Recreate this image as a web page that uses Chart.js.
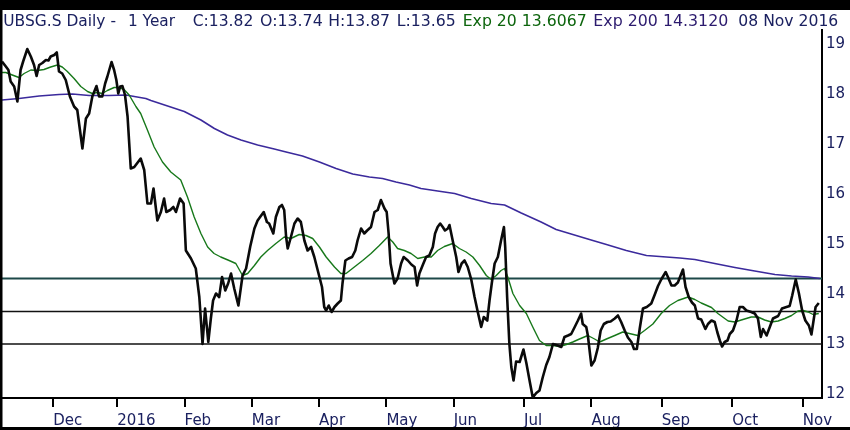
<!DOCTYPE html>
<html>
<head>
<meta charset="utf-8">
<script src="https://cdn.jsdelivr.net/npm/chart.js@4.4.1/dist/chart.umd.min.js"></script>
<style>
html,body{margin:0;padding:0;background:#fff;}
canvas{display:block;}
</style>
</head>
<body>
<canvas id="c" width="850" height="430"></canvas>
<script>
// ---- data (x = trading-day index since start of the one-year window) ----
const monthTickDays = [16, 36, 57, 78, 99, 120, 141, 163, 184, 206, 228, 250];
const monthLabels = ['Dec', '2016', 'Feb', 'Mar', 'Apr', 'May', 'Jun', 'Jul', 'Aug', 'Sep', 'Oct', 'Nov'];
const yTicks = [12, 13, 14, 15, 16, 17, 18, 19];
const refLevels = [14.31, 13.65, 13.0];

const priceDays = [0,1.2,2.0,2.7,3.8,4.8,5.8,6.6,7.9,9.0,10.0,10.8,11.6,12.6,13.7,14.5,15.2,16.3,17.1,17.8,18.8,19.9,21.2,22.5,23.5,25.1,26.2,27.2,28.2,29.5,30.3,31.3,32.2,32.9,34.2,35.0,35.7,36.3,36.9,37.6,38.4,39.2,40.2,41.3,43.3,44.4,45.4,46.5,47.3,48.5,49.6,50.6,51.3,52.5,53.5,54.3,55.6,56.7,57.4,59.0,60.5,61.6,62.6,63.4,64.4,65.2,65.9,66.8,67.8,68.7,69.7,70.6,71.5,72.5,73.8,75.1,76.2,77.5,78.8,79.8,81.7,82.7,83.4,84.7,85.5,86.6,87.4,88.1,88.7,89.2,90.2,91.3,92.3,93.3,94.4,95.4,96.5,97.5,99.1,99.9,100.6,101.2,102.0,102.9,103.8,104.8,105.8,106.3,107.2,108.2,109.3,110.3,111.0,112.1,113.1,114.0,115.2,116.3,117.3,118.3,119.4,120.1,120.7,121.3,122.5,123.5,124.6,125.4,126.7,127.8,128.8,129.6,130.3,131.3,132.4,133.4,134.5,135.2,136.0,136.8,137.6,138.3,139.2,139.7,140.7,141.8,142.5,143.5,144.4,145.4,146.5,147.5,148.5,149.6,150.4,151.5,152.2,152.9,153.8,154.8,155.8,156.7,157.1,157.7,158.4,159.0,159.7,160.5,161.6,162.8,163.7,164.7,165.7,166.8,167.8,168.8,169.9,170.9,172.0,173.5,174.6,175.6,176.7,177.7,178.8,179.8,180.8,181.3,182.4,182.9,184.0,185.0,186.0,186.9,187.9,189.0,190.0,191.3,192.3,193.3,194.4,195.4,196.5,197.3,198.2,199.1,200.1,201.3,202.7,203.8,204.8,205.8,207.2,207.9,209.0,210.0,211.0,212.6,213.4,214.4,215.4,216.3,217.3,218.3,219.6,220.4,221.5,222.5,223.3,224.1,224.8,225.6,226.5,227.2,228.2,229.3,230.3,231.3,232.4,233.9,235.0,236.0,236.9,237.6,238.7,239.7,240.7,242.3,243.5,244.9,245.9,246.7,247.8,248.8,249.8,250.8,251.9,252.7,253.2,254.0,255.0];
const priceValues = [18.65,18.55,18.48,18.25,18.15,17.85,18.48,18.65,18.90,18.75,18.58,18.36,18.58,18.62,18.68,18.67,18.75,18.78,18.83,18.45,18.41,18.28,17.95,17.75,17.68,16.91,17.51,17.61,17.95,18.16,17.95,17.95,18.21,18.35,18.64,18.48,18.28,18.01,18.15,18.16,17.98,17.55,16.51,16.54,16.71,16.48,15.81,15.81,16.11,15.47,15.64,15.91,15.64,15.68,15.74,15.64,15.91,15.81,14.87,14.71,14.51,13.94,13.00,13.71,13.04,13.51,13.87,14.01,13.94,14.34,14.07,14.21,14.41,14.11,13.77,14.37,14.51,14.95,15.31,15.47,15.64,15.44,15.41,15.21,15.54,15.74,15.78,15.68,15.14,14.91,15.14,15.41,15.51,15.44,15.07,14.87,14.94,14.74,14.34,14.14,13.74,13.67,13.77,13.64,13.74,13.81,13.87,14.21,14.67,14.71,14.74,14.87,15.07,15.31,15.21,15.27,15.34,15.64,15.68,15.88,15.71,15.64,15.21,14.61,14.21,14.31,14.61,14.74,14.67,14.59,14.54,14.17,14.41,14.57,14.74,14.77,14.94,15.21,15.34,15.41,15.34,15.27,15.31,15.38,15.07,14.74,14.44,14.61,14.67,14.54,14.29,13.95,13.65,13.34,13.54,13.47,13.87,14.21,14.61,14.74,15.07,15.34,14.94,13.94,13.00,12.54,12.27,12.65,12.64,12.89,12.62,12.27,11.93,12.02,12.07,12.33,12.58,12.74,13.00,12.97,12.94,13.14,13.17,13.20,13.34,13.47,13.61,13.40,13.34,13.17,12.57,12.67,12.92,13.27,13.40,13.44,13.45,13.51,13.57,13.44,13.27,13.13,13.04,12.90,12.90,13.31,13.71,13.74,13.81,13.99,14.16,14.29,14.44,14.34,14.17,14.17,14.23,14.49,14.14,13.94,13.83,13.77,13.51,13.49,13.30,13.40,13.47,13.44,13.24,13.07,12.95,13.04,13.07,13.20,13.27,13.47,13.74,13.74,13.67,13.64,13.61,13.51,13.14,13.30,13.17,13.34,13.51,13.56,13.71,13.74,13.76,13.97,14.29,14.01,13.67,13.47,13.37,13.19,13.40,13.74,13.82];

const ema20Days = [0,1.2,3.2,5.3,6.9,9.0,11.0,13.1,15.2,17.3,18.8,20.4,22.5,24.6,26.7,28.2,29.8,31.3,32.9,35.0,36.6,38.1,39.7,41.8,43.3,45.4,47.5,50.1,52.7,55.8,57.9,60.0,62.1,64.2,66.2,68.3,70.9,73.0,75.1,76.7,78.8,80.8,82.9,85.5,88.1,90.2,92.8,94.9,97.0,99.1,101.2,103.8,105.8,107.4,110.0,112.6,115.2,117.8,120.4,122.0,123.5,125.6,127.7,129.8,131.9,134.0,136.0,138.1,140.7,142.8,144.9,147.0,149.1,151.2,152.7,154.3,155.8,156.9,157.9,159.5,161.6,163.7,165.7,167.8,169.9,172.0,174.1,176.2,178.2,180.3,182.9,185.0,186.6,188.7,191.3,193.8,196.5,198.5,200.6,203.2,205.8,208.4,211.0,214.2,216.3,218.3,221.5,223.5,226.7,228.8,230.8,233.9,236.0,238.1,240.2,242.3,244.4,246.5,248.5,250.1,251.7,253.2,255.0];
const ema20Values = [18.43,18.43,18.38,18.33,18.41,18.48,18.47,18.49,18.54,18.58,18.54,18.45,18.31,18.15,18.05,18.01,18.03,18.01,18.07,18.13,18.13,18.09,17.98,17.75,17.61,17.28,16.94,16.64,16.44,16.28,15.94,15.54,15.21,14.94,14.81,14.74,14.67,14.61,14.37,14.41,14.57,14.74,14.87,15.01,15.14,15.11,15.19,15.17,15.11,14.94,14.74,14.54,14.41,14.41,14.54,14.67,14.81,14.97,15.14,15.04,14.91,14.87,14.81,14.71,14.74,14.74,14.87,14.95,15.01,14.91,14.84,14.74,14.57,14.37,14.29,14.37,14.47,14.51,14.34,14.01,13.77,13.61,13.34,13.07,12.97,12.97,12.95,12.99,13.04,13.10,13.17,13.10,13.04,13.10,13.17,13.24,13.20,13.17,13.27,13.40,13.61,13.77,13.87,13.94,13.89,13.82,13.73,13.61,13.46,13.44,13.48,13.54,13.54,13.48,13.44,13.46,13.51,13.57,13.66,13.67,13.64,13.59,13.61];

const ema200Days = [0,5.3,11.6,17.8,22.0,27.2,33.4,38.7,41.3,44.9,46.5,51.7,56.9,62.1,66.3,70.4,74.6,79.8,85.0,88.7,93.8,99.1,104.3,109.5,114.7,118.8,123.0,127.2,130.8,136.0,141.3,146.5,152.7,156.9,162.1,168.3,173.0,178.2,183.4,188.7,194.9,201.2,207.4,211.6,216.3,222.5,228.8,235.0,241.3,246.5,251.7,255.3];
const ema200Values = [17.88,17.91,17.96,17.99,18.00,17.97,17.97,17.98,17.95,17.91,17.87,17.76,17.65,17.48,17.31,17.18,17.08,16.98,16.90,16.84,16.76,16.64,16.51,16.40,16.34,16.31,16.24,16.18,16.11,16.06,16.01,15.91,15.81,15.78,15.62,15.44,15.29,15.19,15.09,14.99,14.87,14.77,14.74,14.72,14.69,14.61,14.53,14.46,14.39,14.36,14.34,14.31];

// ---- build chart ----
const NAVY = '#1b2160';
const pts = (xs, ys) => xs.map((x, k) => ({x: x, y: ys[k]}));
const X_MIN = 0, X_MAX = 256;
const refColors = ['#1d4848', '#111111', '#111111'];
const refWidths = [1.8, 1.3, 1.3];

const datasets = [
  {label: 'UBSG.S', data: pts(priceDays, priceValues), borderColor: '#0a0a0a', borderWidth: 2.6},
  {label: 'Exp 20', data: pts(ema20Days, ema20Values), borderColor: '#17781a', borderWidth: 1.4},
  {label: 'Exp 200', data: pts(ema200Days, ema200Values), borderColor: '#3b2a9c', borderWidth: 1.6}
];
refLevels.forEach((lv, k) => {
  datasets.push({label: 'ref' + k, data: [{x: X_MIN, y: lv}, {x: X_MAX, y: lv}], borderColor: refColors[k], borderWidth: refWidths[k]});
});
datasets.forEach(d => { d.pointRadius = 0; d.tension = 0; d.fill = false; d.borderJoinStyle = 'round'; });

const titleParts = [
  {t: 'UBSG.S Daily -', x0: 3.3, x1: 116, c: NAVY},
  {t: '1 Year', x0: 128, x1: 175, c: NAVY},
  {t: 'C:13.82', x0: 192.7, x1: 253.3, c: NAVY},
  {t: 'O:13.74', x0: 260, x1: 322.7, c: NAVY},
  {t: 'H:13.87', x0: 328.3, x1: 390, c: NAVY},
  {t: 'L:13.65', x0: 396.7, x1: 455.7, c: NAVY},
  {t: 'Exp 20 13.6067', x0: 462.7, x1: 586.7, c: '#0d650d'},
  {t: 'Exp 200 14.3120', x0: 593.3, x1: 728.3, c: '#2c1b6e'},
  {t: '08 Nov 2016', x0: 738.3, x1: 838.3, c: NAVY}
];

const framePlugin = {
  id: 'frame',
  beforeDraw(chart) {
    const ctx = chart.ctx;
    ctx.save();
    ctx.fillStyle = '#ffffff';
    ctx.fillRect(0, 0, chart.width, chart.height);
    ctx.restore();
  },
  afterDraw(chart) {
    const ctx = chart.ctx;
    ctx.save();
    ctx.fillStyle = '#000000';
    ctx.fillRect(0, 0, chart.width, 10);
    ctx.fillRect(0, 0, 2.5, chart.height);
    ctx.fillRect(0, chart.height - 3, chart.width, 3);
    ctx.font = '15px "DejaVu Sans"';
    ctx.textBaseline = 'alphabetic';
    titleParts.forEach(p => {
      const w = ctx.measureText(p.t).width;
      ctx.save();
      ctx.translate(p.x0, 26);
      ctx.scale((p.x1 - p.x0) / w, 1);
      ctx.fillStyle = p.c;
      ctx.fillText(p.t, 0, 0);
      ctx.restore();
    });
    ctx.restore();
  }
};

new Chart(document.getElementById('c'), {
  type: 'line',
  data: {datasets: datasets},
  options: {
    responsive: false,
    animation: false,
    devicePixelRatio: 1,
    parsing: true,
    layout: {padding: {left: 2, top: 30, right: 0, bottom: 0}},
    plugins: {legend: {display: false}, tooltip: {enabled: false}, title: {display: false}},
    scales: {
      x: {
        type: 'linear', position: 'bottom', min: X_MIN, max: X_MAX,
        afterBuildTicks: s => { s.ticks = monthTickDays.map(v => ({value: v})); },
        afterFit: s => { s.height = 32; },
        border: {display: true, color: '#000', width: 2},
        grid: {display: true, drawOnChartArea: false, drawTicks: true, tickLength: 9, color: '#000', lineWidth: 2},
        ticks: {
          autoSkip: false, maxRotation: 0, minRotation: 0, align: 'start', padding: 5,
          color: NAVY, font: {family: 'DejaVu Sans', size: 15},
          callback: (v, i) => monthLabels[i]
        }
      },
      y: {
        type: 'linear', position: 'right', min: 11.92, max: 19.28,
        afterBuildTicks: s => { s.ticks = yTicks.map(v => ({value: v})); },
        afterFit: s => { s.width = 28; },
        border: {display: true, color: '#000', width: 2},
        grid: {display: false, drawTicks: false},
        ticks: {padding: 4, color: NAVY, font: {family: 'DejaVu Sans', size: 15}, callback: v => String(v)}
      }
    }
  },
  plugins: [framePlugin]
});
</script>
</body>
</html>
